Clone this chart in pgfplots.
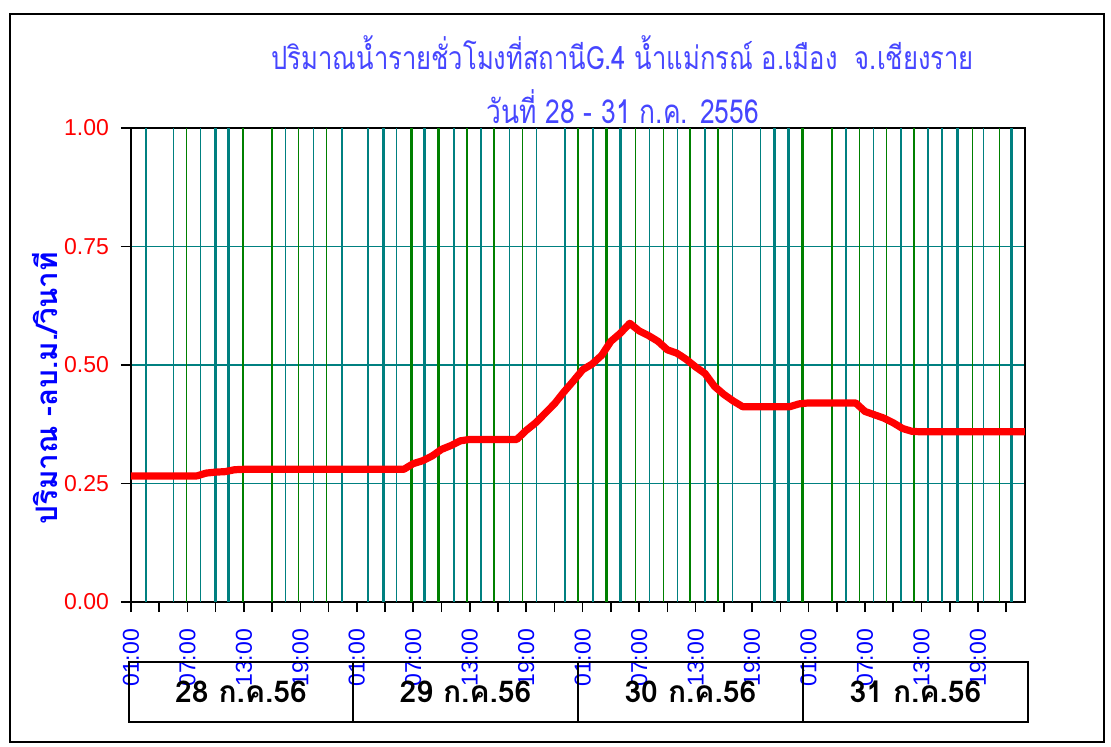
\documentclass[border=0pt]{standalone}
\usepackage{fontspec}
\usepackage{pgfplots}
\pgfplotsset{compat=1.18}
\newfontfamily\thaifont[Script=Thai]{Loma}
\newfontfamily\thaititle[Script=Thai,FakeStretch=0.8]{Loma}
\newfontfamily\lsans{Liberation Sans}
\definecolor{gteal}{RGB}{0,128,128}
\definecolor{ggreen}{RGB}{0,128,0}
\definecolor{ttlblue}{RGB}{70,70,255}
\begin{document}
\begin{tikzpicture}
\begin{axis}[
  scale only axis, width=447pt, height=237pt,
  xmin=0, xmax=95, ymin=0, ymax=1,
  clip=false,
  axis line style={black, line width=1.2pt},
  xtick={0,6,...,90},
  xticklabels={01:00,07:00,13:00,19:00,01:00,07:00,13:00,19:00,01:00,07:00,13:00,19:00,01:00,07:00,13:00,19:00},
  minor xtick={3,9,...,93},
  ytick={0,0.25,0.5,0.75,1},
  tick align=outside,
  major tick length=5pt, minor tick length=5pt,
  tick style={black, line width=0.8pt},
  xtick pos=bottom, ytick pos=left,
  ymajorgrids, major grid style={gteal, line width=0.75pt},
  /pgf/number format/assume math mode=true,
  yticklabel shift=2.5pt,
  xticklabel shift=5pt,
  yticklabel style={font=\lsans\fontsize{11.5}{13}\selectfont, text=red, /pgf/number format/fixed, /pgf/number format/fixed zerofill, /pgf/number format/precision=2},
  xticklabel style={font=\lsans\fontsize{11.5}{13}\selectfont, text=blue, rotate=90, anchor=east},
]
% vertical grid lines
\addplot[gteal, line width=0.75pt, ycomb, no markers] coordinates {(1.6,1) (4.5,1) (7.4,1) (16.4,1) (19.4,1) (22.4,1) (25.2,1) (28.2,1) (34.3,1) (37.2,1) (40.2,1) (43.1,1) (46.1,1) (55.1,1) (58.1,1) (61.0,1) (63.9,1) (66.9,1) (76.0,1) (78.9,1) (81.8,1) (84.7,1) (86.2,1) (90.6,1)};
\addplot[ggreen, line width=0.75pt, ycomb, no markers] coordinates {(5.9,1) (15.0,1) (17.8,1) (20.8,1) (35.7,1) (38.6,1) (41.6,1) (47.5,1) (53.6,1) (56.6,1) (59.4,1) (62.4,1) (74.5,1) (77.4,1) (80.3,1) (83.2,1) (89.4,1) (92.3,1)};
\addplot[gteal, line width=1.4pt, ycomb, no markers] coordinates {(9.0,1) (10.4,1) (26.8,1) (31.2,1) (49.1,1) (52.0,1) (68.4,1) (69.9,1) (87.8,1) (93.6,1)};
\addplot[ggreen, line width=1.4pt, ycomb, no markers] coordinates {(11.9,1) (29.8,1) (32.7,1) (50.5,1) (71.4,1)};
% discharge
\addplot[red, line width=3.6pt, line join=round, no markers] coordinates {
(0,0.266) (1,0.266) (2,0.266) (3,0.266) (4,0.266) (5,0.266) (6,0.266) (7,0.266)
(8,0.272) (9,0.274) (10,0.275) (11,0.279)
(12,0.280) (13,0.280) (14,0.280) (15,0.280) (16,0.280) (17,0.280) (18,0.280) (19,0.280) (20,0.280)
(21,0.280) (22,0.280) (23,0.280) (24,0.280) (25,0.280) (26,0.280) (27,0.280) (28,0.280) (29,0.280)
(30,0.292) (31,0.298) (32,0.308) (33,0.322) (34,0.330) (35,0.340)
(36,0.343) (37,0.343) (38,0.343) (39,0.343) (40,0.343) (41,0.343)
(42,0.362) (43,0.378) (44,0.398) (45,0.418) (46,0.443) (47,0.466) (48,0.490) (49,0.502)
(50,0.520) (51,0.550) (52,0.567) (53,0.588) (54,0.572) (55,0.562) (56,0.550) (57,0.532)
(58,0.525) (59,0.512) (60,0.496) (61,0.482) (62,0.455) (63,0.438) (64,0.424) (65,0.412)
(66,0.412) (67,0.412) (68,0.412) (69,0.412) (70,0.412) (71,0.418)
(72,0.420) (73,0.420) (74,0.420) (75,0.420) (76,0.420) (77,0.420)
(78,0.402) (79,0.395) (80,0.388) (81,0.378) (82,0.366) (83,0.360)
(84,0.359) (85,0.359) (86,0.359) (87,0.359) (88,0.359) (89,0.359) (90,0.359) (91,0.359) (92,0.359) (93,0.359) (94,0.359) (95,0.359)
};
% titles
\node[text=ttlblue, font=\thaititle\fontsize{16}{18}\selectfont] at (rel axis cs:0.550,1.160) {ปริมาณน้ำรายชั่วโมงที่สถานีG.4 น้ำแม่กรณ์ อ.เมือง\ \ จ.เชียงราย};
\node[text=ttlblue, font=\thaititle\fontsize{16.5}{18}\selectfont] at (rel axis cs:0.550,1.045) {วันที่ 28 - 31 ก.ค. 2556};
\node[rotate=90, text=blue, font=\thaifont\bfseries\fontsize{14.8}{16}\selectfont] at (rel axis cs:-0.096,0.451) {ปริมาณ -ลบ.ม./วินาที};
% date boxes
\draw[line width=1pt] (rel axis cs:-0.0022,-0.1266) rectangle (rel axis cs:1.0034,-0.2532);
\draw[line width=1pt] (rel axis cs:0.2483,-0.1266) -- (rel axis cs:0.2483,-0.2532);
\draw[line width=1pt] (rel axis cs:0.5,-0.1266) -- (rel axis cs:0.5,-0.2532);
\draw[line width=1pt] (rel axis cs:0.7517,-0.1266) -- (rel axis cs:0.7517,-0.2532);
\node[font=\thaifont\bfseries\fontsize{15}{16}\selectfont] at (rel axis cs:0.1231,-0.1899) {28 ก.ค.56};
\node[font=\thaifont\bfseries\fontsize{15}{16}\selectfont] at (rel axis cs:0.3742,-0.1899) {29 ก.ค.56};
\node[font=\thaifont\bfseries\fontsize{15}{16}\selectfont] at (rel axis cs:0.6258,-0.1899) {30 ก.ค.56};
\node[font=\thaifont\bfseries\fontsize{15}{16}\selectfont] at (rel axis cs:0.8775,-0.1899) {31 ก.ค.56};
% outer frame
\draw[line width=1pt] (rel axis cs:-0.1353,-0.2954) rectangle (rel axis cs:1.0884,1.2405);
\coordinate (bbSW) at (rel axis cs:-0.1465,-0.3038);
\coordinate (bbNE) at (rel axis cs:1.0962,1.2700);
\end{axis}
\pgfresetboundingbox
\path[use as bounding box] (bbSW) rectangle (bbNE);
\end{tikzpicture}
\end{document}
